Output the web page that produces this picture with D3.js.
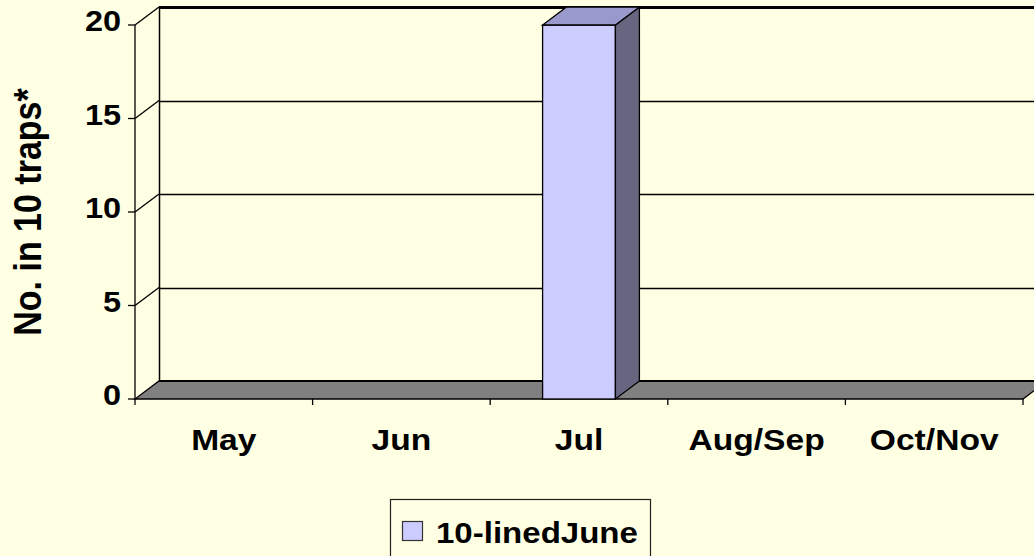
<!DOCTYPE html>
<html>
<head>
<meta charset="utf-8">
<script src="https://cdn.jsdelivr.net/npm/d3@7"></script>
<style>
  html, body { margin: 0; padding: 0; background: #FFFFE3; }
  svg { display: block; }
  text { font-family: "Liberation Sans", Arial, sans-serif; font-weight: bold; fill: #000; }
</style>
</head>
<body>
<div id="chart"></div>
<script>
// data
var categories = ['May', 'Jun', 'Jul', 'Aug/Sep', 'Oct/Nov'];
var values = [0, 0, 20, 0, 0];
var yTicks = [0, 5, 10, 15, 20];
var seriesName = '10-linedJune';
var yTitle = 'No. in 10 traps*';

var width = 1034, height = 556;
var depthX = 24, depthY = -18;   // 3d offset of the back wall
var stretch = 1.12;              // text looks wider than it is tall

var svg = d3.select('#chart').append('svg')
    .attr('width', width)
    .attr('height', height);

var x = d3.scaleBand().domain(categories).range([135, 1023]);
var y = d3.scaleLinear().domain([0, 20]).range([399, 25]);

var x0 = x.range()[0], x1 = x.range()[1];
var yBottom = y(0), yTop = y(20);

function pts(arr) { return arr.map(p => p.join(',')).join(' '); }

// walls + gridlines
var walls = svg.append('g').attr('class', 'walls');

yTicks.filter(t => t > 0).forEach(function (t) {
    var yy = Math.round(y(t) + depthY) + 0.5;
    var sw = t === 20 ? 3 : 1.3;
    walls.append('line')
        .attr('x1', x0 + depthX).attr('x2', x1 + depthX)
        .attr('y1', yy).attr('y2', yy)
        .attr('stroke', '#000').attr('stroke-width', sw);
    walls.append('line')
        .attr('x1', x0).attr('y1', y(t))
        .attr('x2', x0 + depthX).attr('y2', y(t) + depthY)
        .attr('stroke', '#000').attr('stroke-width', 1.3);
});

// back corner of side wall
walls.append('line')
    .attr('x1', x0 + depthX + 0.5).attr('x2', x0 + depthX + 0.5)
    .attr('y1', yTop + depthY).attr('y2', yBottom + depthY)
    .attr('stroke', '#000').attr('stroke-width', 1.5);

// floor
svg.append('polygon')
    .attr('points', pts([[x0, yBottom], [x1, yBottom], [x1 + depthX, yBottom + depthY], [x0 + depthX, yBottom + depthY]]))
    .attr('fill', '#808080')
    .attr('stroke', '#000')
    .attr('stroke-width', 1.3);
svg.append('line')
    .attr('x1', x0 + depthX).attr('x2', x1 + depthX)
    .attr('y1', yBottom + depthY).attr('y2', yBottom + depthY)
    .attr('stroke', '#000').attr('stroke-width', 2);

// bars
var barW = x.bandwidth() * 0.41;
var bars = svg.append('g').attr('class', 'bars')
    .selectAll('g')
    .data(categories.map((c, i) => ({ cat: c, v: values[i] })).filter(d => d.v > 0))
    .enter().append('g');

bars.each(function (d) {
    var g = d3.select(this);
    var bx = x(d.cat) + (x.bandwidth() - barW) / 2;
    var by = y(d.v);
    // front
    g.append('rect')
        .attr('x', bx).attr('y', by)
        .attr('width', barW).attr('height', yBottom - by)
        .attr('fill', '#CCCCFF').attr('stroke', '#000').attr('stroke-width', 1.3);
    // side
    g.append('polygon')
        .attr('points', pts([[bx + barW, by], [bx + barW + depthX, by + depthY], [bx + barW + depthX, yBottom + depthY], [bx + barW, yBottom]]))
        .attr('fill', '#666680').attr('stroke', '#000').attr('stroke-width', 1.3);
    // top
    g.append('polygon')
        .attr('points', pts([[bx, by], [bx + barW, by], [bx + barW + depthX, by + depthY], [bx + depthX, by + depthY]]))
        .attr('fill', '#9999CC').attr('stroke', '#000').attr('stroke-width', 1.3);
});

// y axis
var yAxis = svg.append('g').attr('class', 'y-axis');
yAxis.append('line')
    .attr('x1', x0).attr('x2', x0)
    .attr('y1', yTop).attr('y2', yBottom + 6)
    .attr('stroke', '#000').attr('stroke-width', 1.3);
yTicks.forEach(function (t) {
    yAxis.append('line')
        .attr('x1', x0 - 7).attr('x2', x0)
        .attr('y1', y(t)).attr('y2', y(t))
        .attr('stroke', '#000').attr('stroke-width', 1.3);
    yAxis.append('g')
        .attr('transform', 'translate(' + (x0 - 14) + ',' + (y(t) + 6) + ') scale(' + stretch + ',1)')
        .append('text')
        .attr('text-anchor', 'end')
        .style('font-size', '29px')
        .text(t);
});

// x axis
var xAxis = svg.append('g').attr('class', 'x-axis');
categories.forEach(function (c, i) {
    var bx = x(c) + x.bandwidth();
    xAxis.append('line')
        .attr('x1', bx).attr('x2', bx)
        .attr('y1', yBottom).attr('y2', yBottom + 6)
        .attr('stroke', '#000').attr('stroke-width', 1.3);
    xAxis.append('g')
        .attr('transform', 'translate(' + (x(c) + x.bandwidth() / 2) + ',450) scale(' + stretch + ',1)')
        .append('text')
        .attr('text-anchor', 'middle')
        .style('font-size', '30px')
        .text(c);
});

// y title
svg.append('g')
    .attr('transform', 'translate(41,212) scale(' + stretch + ',1) rotate(-90)')
    .append('text')
    .attr('text-anchor', 'middle')
    .style('font-size', '34px')
    .text(yTitle);

// legend
var legend = svg.append('g').attr('class', 'legend');
legend.append('rect')
    .attr('x', 390.5).attr('y', 499.5)
    .attr('width', 260).attr('height', 80)
    .attr('fill', 'none').attr('stroke', '#222').attr('stroke-width', 1.2);
legend.append('rect')
    .attr('x', 402.5).attr('y', 521.5)
    .attr('width', 20).attr('height', 19)
    .attr('fill', '#CCCCFF').attr('stroke', '#333').attr('stroke-width', 1.2);
legend.append('g')
    .attr('transform', 'translate(436,543) scale(' + stretch + ',1)')
    .append('text')
    .style('font-size', '29.5px')
    .text(seriesName);
</script>
</body>
</html>
